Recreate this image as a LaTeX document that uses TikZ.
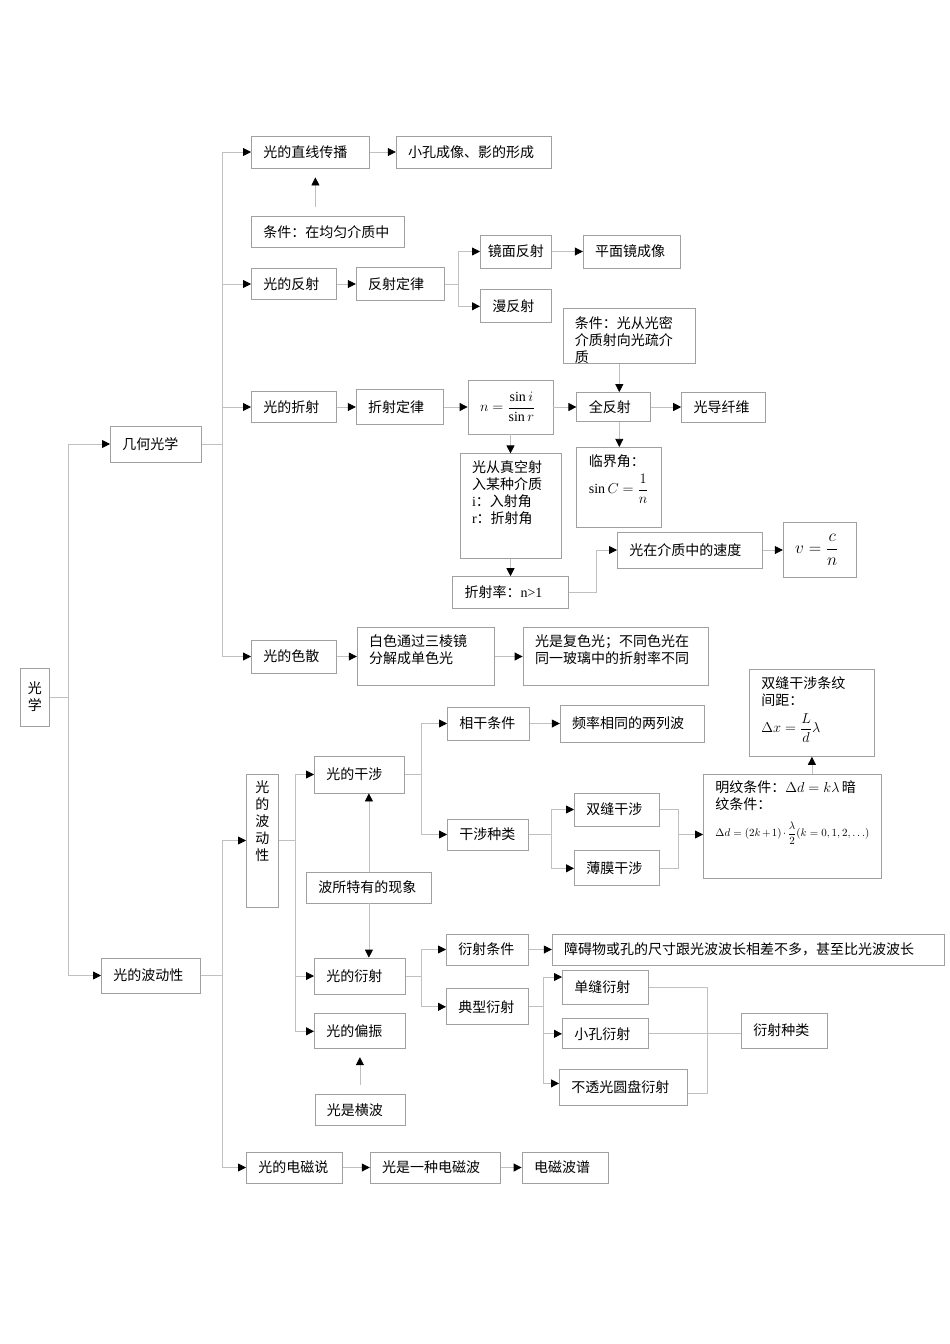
\documentclass[tikz,border=0pt]{standalone}
\usepackage{amsmath}
\usepackage{fontspec}
\setmainfont{Liberation Serif}
\newfontfamily\cjk{Noto Sans CJK SC}
\usepackage{tikz}
\usetikzlibrary{arrows.meta,positioning}
\definecolor{boxgray}{RGB}{160,160,160}
\definecolor{linegray}{RGB}{192,192,192}
\newcommand{\tb}[3]{\parbox[c][#2][t]{#1}{#3}}
\tikzstyle{boxbase} = [draw=boxgray, line width=0.8pt, text=black, font=\cjk\fontsize{14}{17}\selectfont, inner xsep=12pt, inner ysep=0pt]
\tikzstyle{box} = [boxbase, align=left]
\tikzstyle{tall} = [boxbase, inner ysep=7pt]
\tikzstyle{tedge} = [draw=linegray, line width=0.8pt, -{Triangle[length=8pt, width=8pt, color=black]}]
\tikzstyle{tline} = [draw=linegray, line width=0.8pt]

\begin{document}
\begin{tikzpicture}[x=1pt, y=-1pt]
\useasboundingbox (0,0) rectangle (950,1344);

% root ===================================
\node[boxbase, text width=14pt, inner xsep=7.5pt, align=center, minimum height=58pt, anchor=west] (guangxue) at (20,697) {光\\学};
\node[box, text width=67pt, minimum height=36pt, anchor=west] (jihe) at (110,444) {几何光学};
\node[box, text width=75pt, minimum height=35pt, anchor=west] (bodong) at (101,975.5) {光的波动性};

% geometric optics =======================
% straight line
\node[box, text width=94pt, minimum height=32pt, anchor=west] (zhixian) at (251,152) {光的直线传播};
\node[box, text width=131pt, minimum height=32pt, right=26pt of zhixian] (xiaokong) {小孔成像、影的形成};
\node[box, text width=129pt, minimum height=31pt, below=48pt of zhixian.south west, anchor=north west] (tiaojian1) {条件：在均匀介质中};

% reflection
\node[box, text width=61pt, minimum height=31pt, anchor=west] (fanshe) at (251,284) {光的反射};
\node[box, text width=64pt, minimum height=33pt, right=19pt of fanshe] (fsdl) {反射定律};
\node[box, text width=57pt, inner xsep=7pt, align=center, minimum height=33pt, anchor=west] (jingmian) at (480,251.5) {镜面反射};
\node[box, text width=73pt, minimum height=33pt, right=31pt of jingmian] (pingmian) {平面镜成像};
\node[box, text width=47pt, minimum height=33pt, below=21pt of jingmian.south west, anchor=north west] (manfs) {漫反射};

% refraction
\node[boxbase, minimum width=132pt, minimum height=55pt, inner sep=0pt, anchor=north west,
  path picture={\node[anchor=north west, inner sep=0pt, font=\cjk\fontsize{14}{17}\selectfont] (tj2text) at ([yshift=-1pt]path picture bounding box.north west) {\tb{110pt}{41pt}{条件：光从光密\\介质射向光疏介\\质}};}] (tiaojian2) at (563,308) {};
\node[box, text width=61pt, minimum height=31pt, anchor=west] (zheshe) at (251,407) {光的折射};
\node[box, text width=63pt, minimum height=35pt, right=19pt of zheshe] (zsdl) {折射定律};
\node[box, text width=61pt, minimum height=54pt, right=24pt of zsdl] (nformula) {$\displaystyle n=\frac{\sin i}{\sin r}$};
\node[box, text width=50pt, minimum height=29pt, right=23pt of nformula] (quanfs) {全反射};
\node[box, text width=60pt, minimum height=30pt, right=30pt of quanfs] (guangdao) {光导纤维};
\node[tall, below=25pt of quanfs.south west, anchor=north west] (linjie) {\tb{61pt}{66pt}{临界角：\\[6pt]$\displaystyle\sin C=\frac{1}{n}$}};
\node[tall, below=19pt of nformula] (zhenkong) {\tb{77pt}{91pt}{光从真空射\\入某种介质\\{\rmfamily i}：入射角\\{\rmfamily r}：折射角}};
\node[box, text width=92pt, minimum height=32pt, below=17pt of zhenkong] (zsl) {折射率：{\rmfamily n>1}};
\node[box, text width=121pt, minimum height=36pt, anchor=west] (sudu) at (617,550) {光在介质中的速度};
\node[box, text width=49pt, minimum height=55pt, font=\fontsize{16}{18}\selectfont, right=20pt of sudu] (vformula) {$\displaystyle v=\frac{c}{n}$};

% dispersion
\node[box, text width=61pt, minimum height=33pt, anchor=west] (sesan) at (251,656.5) {光的色散};
\node[tall, right=20pt of sesan] (baise) {\tb{113pt}{44pt}{白色通过三棱镜\\分解成单色光}};
\node[tall, right=28pt of baise] (fuse) {\tb{161pt}{44pt}{光是复色光；不同色光在\\同一玻璃中的折射率不同}};

% wave optics ============================
\node[tall, inner xsep=9pt, anchor=west] (bdx) at (246,840.5) {\tb{14pt}{119pt}{光\\的\\波\\动\\性}};

% interference
\node[box, text width=66pt, minimum height=37pt, anchor=west] (ganshe) at (314,774.5) {光的干涉};
\node[box, text width=58pt, minimum height=33pt, anchor=west] (xianggan) at (447,723.5) {相干条件};
\node[box, text width=120pt, minimum height=37pt, right=30pt of xianggan] (pinlv) {频率相同的两列波};
\node[box, text width=57pt, minimum height=31pt, anchor=west] (gszl) at (447,834.5) {干涉种类};
\node[box, text width=61pt, minimum height=33pt, anchor=west] (shuangfeng) at (574,809.5) {双缝干涉};
\node[box, text width=61pt, minimum height=35pt, below=24pt of shuangfeng] (bomo) {薄膜干涉};
\node[tall, anchor=west] (mingwen) at (703,826) {\tb{154pt}{90pt}{明纹条件：{\fontsize{15}{17}\selectfont$\Delta d=k\lambda$}\,暗\\纹条件：\\[10pt]{\fontsize{10.5}{12}\selectfont$\Delta d=(2k+1)\cdot\dfrac{\lambda}{2}(k=0,1,2,\ldots)$}}};
\node[tall, anchor=north west] (jianju) at (749,669) {\tb{101pt}{73pt}{双缝干涉条纹\\间距：\\[6pt]$\displaystyle\Delta x=\frac{L}{d}\lambda$}};
\node[box, text width=101pt, minimum height=31pt, anchor=west] (tezhi) at (306,887.5) {波所特有的现象};

% diffraction
\node[box, text width=67pt, minimum height=36pt, anchor=west] (yanshe) at (314,976) {光的衍射};
\node[box, text width=58pt, minimum height=31pt, anchor=west] (ystj) at (446,949.5) {衍射条件};
\node[box, text width=368pt, minimum height=31pt, right=23pt of ystj] (zhangai) {障碍物或孔的尺寸跟光波波长相差不多，甚至比光波波长};
\node[box, text width=58pt, minimum height=36pt, below=23pt of ystj.south west, anchor=north west] (dianxing) {典型衍射};
\node[box, text width=62pt, minimum height=34pt, anchor=west] (danfeng) at (562,987) {单缝衍射};
\node[box, text width=62pt, minimum height=30pt, below=14pt of danfeng] (xiaokongys) {小孔衍射};
\node[box, text width=104pt, minimum height=36pt, anchor=north west] (yuanpan) at (559,1069) {不透光圆盘衍射};
\node[box, text width=62pt, minimum height=35pt, anchor=west] (yszl) at (741,1030.5) {衍射种类};

% polarization
\node[box, text width=67pt, minimum height=35pt, below=19pt of yanshe] (pianzhen) {光的偏振};
\node[box, text width=66pt, minimum height=31pt, below=45pt of pianzhen] (hengbo) {光是横波};

% electromagnetic
\node[box, text width=72pt, minimum height=31pt, anchor=west] (dianci) at (246,1167.5) {光的电磁说};
\node[box, text width=106pt, minimum height=31pt, right=27pt of dianci] (diancibo) {光是一种电磁波};
\node[box, text width=62pt, minimum height=31pt, right=21pt of diancibo] (boopu) {电磁波谱};

%edges
\path[tedge] (guangxue.east) -- ++(19,0) |- (jihe.west);
\path[tedge] (guangxue.east) -- ++(19,0) |- (bodong.west);

\path[tedge] (jihe.east) -- ++(21,0) |- (zhixian.west);
\path[tedge] (jihe.east) -- ++(21,0) |- (fanshe.west);
\path[tedge] (jihe.east) -- ++(21,0) |- (zheshe.west);
\path[tedge] (jihe.east) -- ++(21,0) |- (sesan.west);

\path[tedge] (zhixian) -- (xiaokong);
\path[tedge, shorten <=9pt, shorten >=9pt] ([xshift=-12.5pt]tiaojian1.north) -- ([xshift=5pt]zhixian.south);

\path[tedge] (fanshe) -- (fsdl);
\path[tedge] (fsdl.east) -- ++(14,0) |- (jingmian.west);
\path[tedge] (fsdl.east) -- ++(14,0) |- (manfs.west);
\path[tedge] (jingmian) -- (pingmian);

\path[tedge] (zheshe) -- (zsdl);
\path[tedge] (zsdl) -- (nformula);
\path[tedge] (nformula) -- (quanfs);
\path[tedge] (quanfs) -- (guangdao);
\path[tedge] (tiaojian2.south -| linjie) -- (quanfs.north -| linjie);
\path[tedge] (quanfs.south -| linjie) -- (linjie);
\path[tedge] (nformula.south -| zhenkong) -- (zhenkong);
\path[tedge] (zhenkong) -- (zsl);
\path[tedge] (zsl.east) -- ++(27,0) |- (sudu.west);
\path[tedge] (sudu) -- (vformula);

\path[tedge] (sesan) -- (baise);
\path[tedge] (baise) -- (fuse);

\path[tedge] (bodong.east) -- ++(22,0) |- (bdx.west);
\path[tedge] (bodong.east) -- ++(22,0) |- (dianci.west);

\path[tedge] (bdx.east) -- ++(17,0) |- (ganshe.west);
\path[tedge] (bdx.east) -- ++(17,0) |- (yanshe.west);
\path[tedge] (bdx.east) -- ++(17,0) |- (pianzhen.west);

\path[tedge] (ganshe.east) -- ++(17,0) |- (xianggan.west);
\path[tedge] (ganshe.east) -- ++(17,0) |- (gszl.west);
\path[tedge] (xianggan) -- (pinlv);
\path[tedge] (gszl.east) -- ++(23,0) |- (shuangfeng.west);
\path[tedge] (gszl.east) -- ++(23,0) |- (bomo.west);
\path[tline] (shuangfeng.east) -- ++(19,0) coordinate (sgj) |- (bomo.east);
\path[tedge] (sgj |- gszl) -- (mingwen.west |- gszl);
\path[tedge] (jianju |- mingwen.north) -- (jianju.south);

\path[tedge] (tezhi.north) -- (tezhi.north |- ganshe.south);
\path[tedge] (tezhi.south) -- (tezhi.south |- yanshe.north);

\path[tedge] (yanshe.east) -- ++(16,0) |- (ystj.west);
\path[tedge] (yanshe.east) -- ++(16,0) |- (dianxing.west);
\path[tedge] (ystj) -- (zhangai);
\path[tedge] (dianxing.east) -- ++(15,0) |- ([yshift=10pt]danfeng.west);
\path[tedge] (dianxing.east) -- ++(15,0) |- (xiaokongys.west);
\path[tedge] (dianxing.east) -- ++(15,0) |- ([yshift=4pt]yuanpan.west);
\path[tline] (danfeng.east) -- ++(59,0) |- ([yshift=-6pt]yuanpan.east);
\path[tline] (xiaokongys.east) -- (yszl.west |- xiaokongys.east);

\path[tedge, shorten <=9pt, shorten >=8pt] (hengbo) -- (pianzhen);

\path[tedge] (dianci) -- (diancibo);
\path[tedge] (diancibo) -- (boopu);

\end{tikzpicture}
\end{document}
